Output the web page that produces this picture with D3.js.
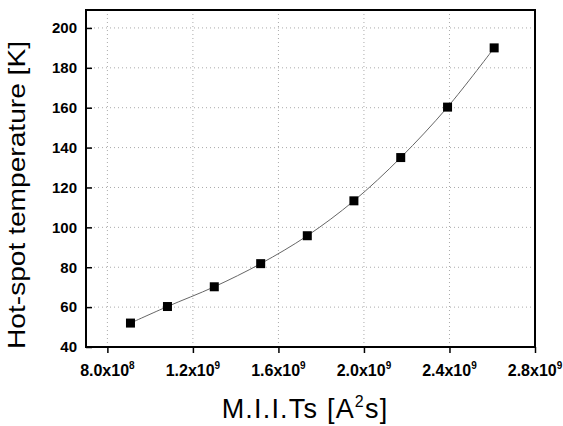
<!DOCTYPE html>
<html>
<head>
<meta charset="utf-8">
<script src="https://cdn.jsdelivr.net/npm/d3@7"></script>
<style>
  body { margin: 0; background: #fff; }
  svg { display: block; font-family: Arial, "Liberation Sans", sans-serif; }
</style>
</head>
<body>
<div id="chart"></div>
<script>
// MIITs values (A^2 s) and hot-spot temperature (K)
const miits = [9.08e8, 1.081e9, 1.30e9, 1.517e9, 1.735e9, 1.953e9, 2.172e9, 2.391e9, 2.609e9];
const temps = [52, 60.3, 70.2, 81.8, 95.8, 113.3, 135, 160.3, 190];
const xTicks = [8e8, 1.2e9, 1.6e9, 2.0e9, 2.4e9, 2.8e9];
const yTicks = [40, 60, 80, 100, 120, 140, 160, 180, 200];

const width = 563;
const height = 426;
const margin = {top: 10, right: 28, bottom: 79, left: 86};

const points = miits.map((m, i) => ({x: m, y: temps[i]}));

const svg = d3.select('#chart')
    .append('svg')
    .attr('width', width)
    .attr('height', height);

const x = d3.scaleLinear()
    .domain([7e8, 2.8e9])
    .range([margin.left, width - margin.right]);

const y = d3.scaleLinear()
    .domain([40, 209])
    .range([height - margin.bottom, margin.top]);

// dotted grid
svg.append('g')
    .selectAll('line')
    .data(xTicks)
    .enter()
    .append('line')
    .attr('x1', d => x(d)).attr('x2', d => x(d))
    .attr('y1', margin.top).attr('y2', height - margin.bottom)
    .attr('stroke', '#aaa')
    .attr('stroke-width', 1)
    .attr('stroke-dasharray', '1,3');

svg.append('g')
    .selectAll('line')
    .data(yTicks)
    .enter()
    .append('line')
    .attr('x1', margin.left).attr('x2', width - margin.right)
    .attr('y1', d => y(d)).attr('y2', d => y(d))
    .attr('stroke', '#aaa')
    .attr('stroke-width', 1)
    .attr('stroke-dasharray', '1,3');

// x axis, ticks outward
const xAxis = svg.append('g')
    .attr('transform', `translate(0,${height - margin.bottom})`)
    .call(d3.axisBottom(x).tickValues(xTicks).tickSize(6).tickFormat(''));
xAxis.select('.domain').remove();
xAxis.selectAll('.tick line').attr('stroke', '#000').attr('stroke-width', 1.5);

// x tick labels with superscript exponents
const xl = svg.append('g')
    .selectAll('text')
    .data(xTicks)
    .enter()
    .append('text')
    .attr('x', d => x(d))
    .attr('y', height - margin.bottom + 29)
    .attr('text-anchor', 'middle')
    .style('font-size', '16px')
    .style('font-weight', 'bold');
xl.append('tspan').text(d => {
    const e = Math.floor(Math.log10(d));
    return (d / Math.pow(10, e)).toFixed(1) + 'x10';
});
xl.append('tspan')
    .attr('dy', -7)
    .style('font-size', '10px')
    .text(d => Math.floor(Math.log10(d)));

// y axis, ticks inward
const yAxis = svg.append('g')
    .attr('transform', `translate(${margin.left},0)`)
    .call(d3.axisLeft(y).tickValues(yTicks).tickSize(-6).tickPadding(9));
yAxis.select('.domain').remove();
yAxis.selectAll('.tick line').attr('stroke', '#000').attr('stroke-width', 1.5);
yAxis.selectAll('.tick text')
    .style('font-size', '15px')
    .style('font-weight', 'bold')
    .style('font-family', 'Arial, "Liberation Sans", sans-serif')
    .attr('fill', '#000');

// frame
svg.append('rect')
    .attr('x', margin.left)
    .attr('y', margin.top)
    .attr('width', width - margin.left - margin.right)
    .attr('height', height - margin.top - margin.bottom)
    .attr('fill', 'none')
    .attr('stroke', '#000')
    .attr('stroke-width', 2);

// fitted curve
svg.append('path')
    .datum(points)
    .attr('fill', 'none')
    .attr('stroke', '#666')
    .attr('stroke-width', 1)
    .attr('d', d3.line().x(d => x(d.x)).y(d => y(d.y)).curve(d3.curveCatmullRom));

// markers
const s = 9;
svg.append('g')
    .selectAll('rect')
    .data(points)
    .enter()
    .append('rect')
    .attr('x', d => x(d.x) - s / 2)
    .attr('y', d => y(d.y) - s / 2)
    .attr('width', s)
    .attr('height', s)
    .attr('fill', '#000');

// axis titles
svg.append('text')
    .attr('transform', `translate(25,${195}) rotate(-90)`)
    .attr('text-anchor', 'middle')
    .attr('textLength', 308)
    .attr('lengthAdjust', 'spacingAndGlyphs')
    .style('font-size', '24px')
    .text('Hot-spot temperature [K]');

const xt = svg.append('text')
    .attr('x', 305)
    .attr('y', 418)
    .attr('text-anchor', 'middle')
    .style('font-size', '27px')
    .style('letter-spacing', '1.2px');
xt.append('tspan').text('M.I.I.Ts [A');
xt.append('tspan').attr('dy', -11).style('font-size', '16px').text('2');
xt.append('tspan').attr('dy', 11).text('s]');
</script>
</body>
</html>
